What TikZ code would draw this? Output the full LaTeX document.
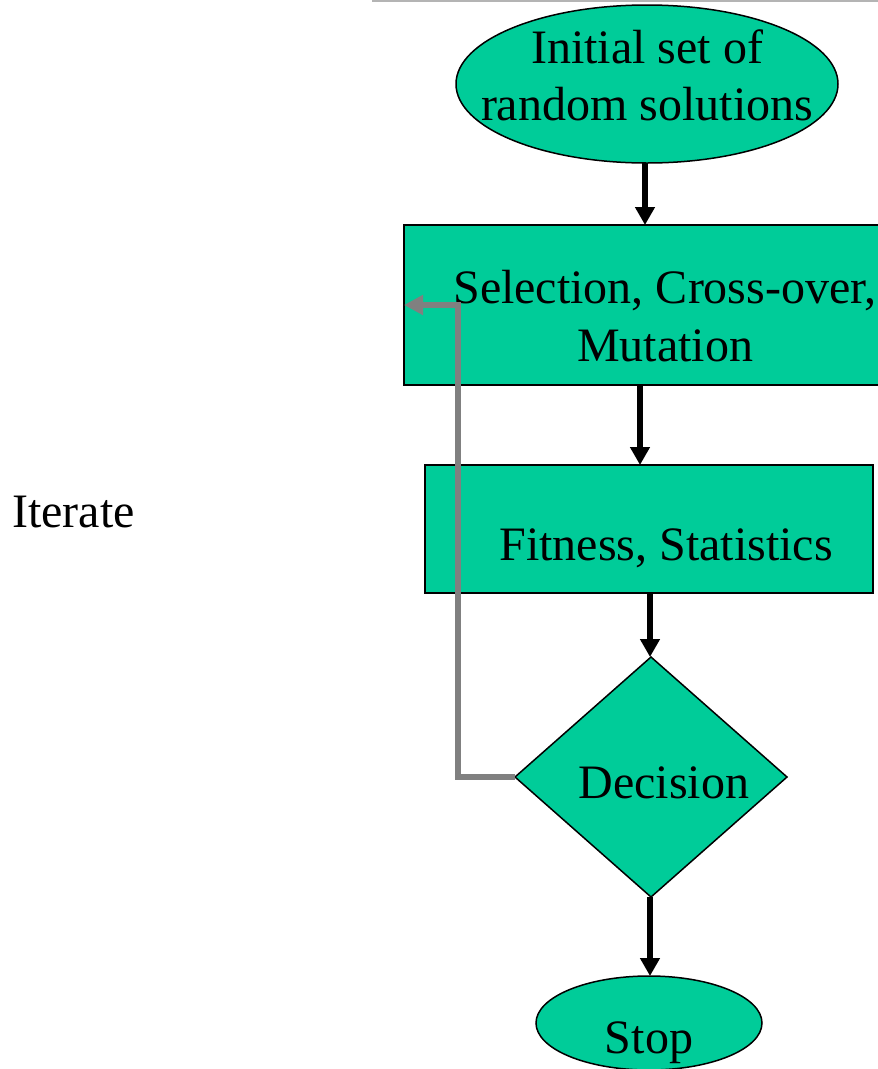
\documentclass[tikz,border=0pt]{standalone}
\usepackage{fontspec}
\setmainfont{Liberation Serif}
\usetikzlibrary{shapes.geometric,arrows.meta}
\definecolor{boxfill}{HTML}{00CC99}
\definecolor{loopgray}{HTML}{808080}
\definecolor{topgray}{HTML}{B4B4B4}
\begin{document}
\begin{tikzpicture}[x=1pt,y=-1pt,
  shapebox/.style={draw=black,line width=1.5pt,fill=boxfill,inner sep=0pt,outer sep=0pt},
  txt/.style={font=\fontsize{48}{57}\selectfont,inner sep=0pt,anchor=base},
  arr/.style={line width=6pt,-{Triangle[width=19pt,length=18pt]}},
  garr/.style={draw=loopgray,line width=6pt,-{Triangle[width=19pt,length=19pt]}}]
\useasboundingbox (0,0) rectangle (878,1069);
\draw[topgray,line width=2.5pt] (372,1) -- (878,1);
% shapes
\node[shapebox,ellipse,minimum width=382pt,minimum height=158pt] (e1) at (647,84) {};
\node[shapebox,rectangle,minimum width=486pt,minimum height=160pt] (r1) at (647,305) {};
\node[shapebox,rectangle,minimum width=448pt,minimum height=128pt] (r2) at (649,529) {};
\node[shapebox,diamond,aspect=1.1333,minimum width=272pt,minimum height=240pt] (d) at (651,777) {};
\node[shapebox,ellipse,minimum width=226pt,minimum height=94pt] (e2) at (649,1023) {};
% texts
\node[txt] (t1) at (647,63) {Initial set of};
\node[txt] (t2) at (647,120) {random solutions};
\node[txt] (t3) at (665,303) {Selection, Cross-over,};
\node[txt] (t4) at (665,361) {Mutation};
\node[txt] (t5) at (666,560) {Fitness, Statistics};
\node[txt] (t6) at (664,798) {Decision};
\node[txt] (t7) at (649,1053) {Stop};
\node[txt,anchor=base west] (it) at (12,527) {Iterate};
% connectors
\draw[arr] ([xshift=-2pt]e1.south) -- ([xshift=-2pt]e1.south |- r1.north);
\draw[arr] ([xshift=-7pt]r1.south) -- ([xshift=-7pt]r1.south |- r2.north);
\draw[arr] ([xshift=1pt]r2.south) -- ([xshift=1pt]r2.south |- d.north);
\draw[arr] ([xshift=-1pt]d.south) -- ([xshift=-1pt]d.south |- e2.north);
\draw[garr] (d.west) -| ([xshift=54pt]r1.west) -- (r1.west);
\end{tikzpicture}
\end{document}
